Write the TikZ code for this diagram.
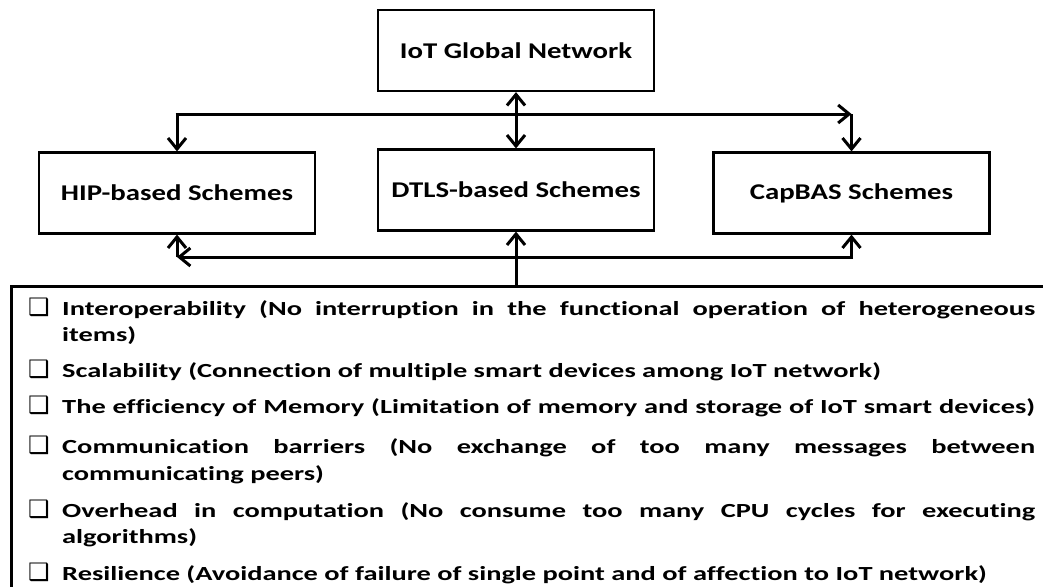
\documentclass[tikz,border=0pt]{standalone}
\usepackage{fontspec}
\setmainfont{Carlito}[FakeStretch=1.42, Ligatures=NoCommon]
\newfontfamily\boxfont{Carlito}[FakeStretch=1.28, Ligatures=NoCommon]
\newfontfamily\symfont{DejaVu Sans}
\usetikzlibrary{arrows.meta}
\newcommand{\mybul}{\makebox[34pt][l]{\symfont\bfseries\fontsize{24}{24}\selectfont ❑}}
\newcommand{\jline}[1]{\makebox[973pt][s]{#1}}
\begin{document}
\begin{tikzpicture}[x=1pt,y=-1pt,
  schemebox/.style={draw, line width=2.2pt, minimum width=276pt, minimum height=81pt, inner sep=0pt,
    font=\boxfont\bfseries\fontsize{22.5}{26}\selectfont},
  conn/.style={line width=3pt, -{Straight Barb[length=11pt,width=18pt,line width=3pt]}},
  dconn/.style={line width=3pt, {Straight Barb[length=11pt,width=18pt,line width=3pt]}-{Straight Barb[length=11pt,width=18pt,line width=3pt]}},
  ln/.style={anchor=base west, inner sep=0pt, font=\bfseries\fontsize{20}{24}\selectfont}]
\useasboundingbox (0,0) rectangle (1043,586);
\clip (0,0) rectangle (1043,586);
\fill[white] (0,0) rectangle (1043,586);

\node[schemebox] (iot)  at (516,50.5) {IoT Global Network};
\node[schemebox] (hip)  at (177,193) {HIP-based Schemes};
\node[schemebox] (dtls) at (516,190) {DTLS-based Schemes};
\node[schemebox] (cap)  at (851.5,193) {CapBAS Schemes};

\node[draw, line width=2.5pt, anchor=north west, minimum width=1100pt, minimum height=400pt, inner sep=0pt] (req) at (10,285) {};

% upper connectors
\coordinate (tl) at (hip.north |- 0,114);
\coordinate (tr) at (cap.north |- 0,114);
\draw[dconn] (iot.south) -- (dtls.north);
\draw[conn, shorten <=-1.5pt] (tl) -- (tr);
\draw[conn] (tl) -- (hip.north);
\draw[conn] (tr) -- (cap.north);

% lower connectors
\coordinate (bl) at (hip.south |- 0,257);
\coordinate (br) at (cap.south |- 0,257);
\coordinate (rt) at (dtls.south |- req.north);
\draw[conn, shorten <=-1.5pt] (br) -- (bl);
\draw[conn] (bl) -- (hip.south);
\draw[conn] (br) -- (cap.south);
\draw[conn] (rt) -- (dtls.south);

% requirement list
\node[ln] (l1) at (28,315) {\mybul\jline{Interoperability (No interruption in the functional operation of heterogeneous}};
\node[ln] (l2) at (62,341) {items)};
\node[ln] (l3) at (28,377) {\mybul Scalability (Connection of multiple smart devices among IoT network)};
\node[ln] (l4) at (28,413) {\mybul\jline{The efficiency of Memory (Limitation of memory and storage of IoT smart devices)}};
\node[ln] (l5) at (28,453) {\mybul\jline{Communication barriers (No exchange of too many messages between}};
\node[ln] (l6) at (62,480) {communicating peers)};
\node[ln] (l7) at (28,517) {\mybul\jline{Overhead in computation (No consume too many CPU cycles for executing}};
\node[ln] (l8) at (62,543) {algorithms)};
\node[ln] (l9) at (28,580) {\mybul Resilience (Avoidance of failure of single point and of affection to IoT network)};
\end{tikzpicture}
\end{document}
